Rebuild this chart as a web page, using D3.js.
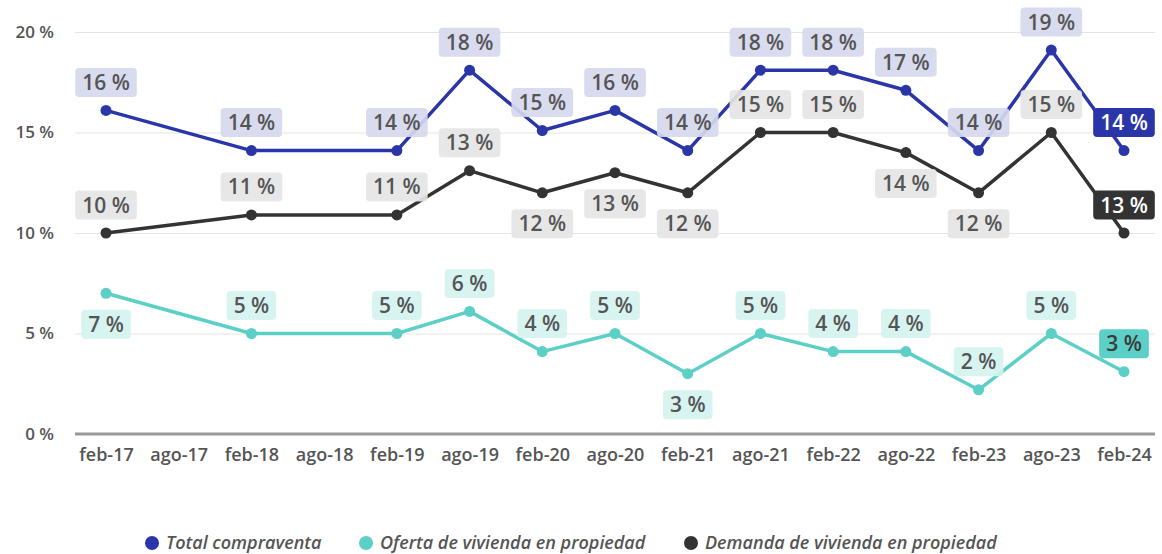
<!DOCTYPE html>
<html>
<head>
<meta charset="utf-8">
<script src="https://cdn.jsdelivr.net/npm/d3@7"></script>
<style>
  body { margin: 0; background: #fff; }
  svg { display: block; font-family: "Open Sans", "Noto Sans", sans-serif; }
</style>
</head>
<body>
<svg width="1162" height="554"></svg>
<script>
// periods on the x axis
var periods = ["feb-17","ago-17","feb-18","ago-18","feb-19","ago-19","feb-20","ago-20",
               "feb-21","ago-21","feb-22","ago-22","feb-23","ago-23","feb-24"];
var yTicks = [0, 5, 10, 15, 20];

// values as plotted (null = no observation)
var total    = [16.1, null, 14.1, null, 14.1, 18.1, 15.1, 16.1, 14.1, 18.1, 18.1, 17.1, 14.1, 19.1, 14.1];
var oferta   = [7.0, null, 5.0, null, 5.0, 6.1, 4.1, 5.0, 3.0, 5.0, 4.1, 4.1, 2.2, 5.0, 3.1];
var demanda  = [10.0, null, 10.9, null, 10.9, 13.1, 12.0, 13.0, 12.0, 15.0, 15.0, 14.0, 12.0, 15.0, 10.0];

// label texts as printed in the chart
var totalLabels   = ["16 %", null, "14 %", null, "14 %", "18 %", "15 %", "16 %", "14 %", "18 %", "18 %", "17 %", "14 %", "19 %", "14 %"];
var ofertaLabels  = ["7 %", null, "5 %", null, "5 %", "6 %", "4 %", "5 %", "3 %", "5 %", "4 %", "4 %", "2 %", "5 %", "3 %"];
var demandaLabels = ["10 %", null, "11 %", null, "11 %", "13 %", "12 %", "13 %", "12 %", "15 %", "15 %", "14 %", "12 %", "15 %", "13 %"];

var seriesNames = ["Total compraventa", "Oferta de vivienda en propiedad", "Demanda de vivienda en propiedad"];

// label placement: a = above the point, b = below
var totalPos   = "aaaaaaaaaaaaaaa".split("");
var ofertaPos  = "baaaaaaabaaaaaa".split("");
var demandaPos = "aaaaaabbbaabbaa".split("");

var svg = d3.select("svg");

var x = d3.scalePoint().domain(periods).range([106, 1124]);
var y = d3.scaleLinear().domain([0, 20]).range([434, 32]);

// gridlines
svg.append("g")
  .attr("transform", "translate(75,0)")
  .call(d3.axisLeft(y).tickValues(yTicks.slice(1)).tickSize(-1080).tickFormat(""))
  .call(g => g.select(".domain").remove())
  .call(g => g.selectAll("line").attr("stroke", "#e4e4e4").attr("stroke-width", 1));

// y labels
svg.append("g")
  .attr("transform", "translate(54,0)")
  .call(d3.axisLeft(y).tickValues(yTicks).tickSize(0).tickPadding(0).tickFormat(d => d + " %"))
  .call(g => g.select(".domain").remove())
  .call(g => g.selectAll("text")
    .attr("font-size", 17).attr("font-weight", 600).attr("fill", "#555")
    .style("font-family", "'Open Sans', sans-serif"));

// baseline
svg.append("line")
  .attr("x1", 75).attr("x2", 1155)
  .attr("y1", y(0)).attr("y2", y(0))
  .attr("stroke", "#999").attr("stroke-width", 3);

// x labels
svg.append("g")
  .attr("transform", "translate(0,444)")
  .call(d3.axisBottom(x).tickSize(0).tickPadding(4))
  .call(g => g.select(".domain").remove())
  .call(g => g.selectAll("text")
    .attr("font-size", 18).attr("font-weight", 600).attr("fill", "#555")
    .style("font-family", "'Open Sans', sans-serif"));

var series = [
  { values: total,   labels: totalLabels,   pos: totalPos,   color: "#2a36a8", box: "#d6d8ee", hiBox: "#2a36a8", hiText: "#fff" },
  { values: oferta,  labels: ofertaLabels,  pos: ofertaPos,  color: "#5ccfc6", box: "#d4f3f0", hiBox: "#5ccfc6", hiText: "#3a3a3a" },
  { values: demanda, labels: demandaLabels, pos: demandaPos, color: "#333333", box: "#e5e5e5", hiBox: "#333333", hiText: "#fff" }
];

var line = d3.line()
  .x(d => x(d.p))
  .y(d => y(d.v));

series.forEach(function(s) {
  var pts = periods.map((p, i) => ({ p: p, v: s.values[i], t: s.labels[i], pos: s.pos[i], i: i }))
    .filter(d => d.v != null);
  s.pts = pts;

  svg.append("path")
    .datum(pts)
    .attr("fill", "none")
    .attr("stroke", s.color)
    .attr("stroke-width", 3.5)
    .attr("stroke-linejoin", "round")
    .attr("d", line);

  svg.selectAll(null)
    .data(pts)
    .enter()
    .append("circle")
      .attr("cx", d => x(d.p))
      .attr("cy", d => y(d.v))
      .attr("r", 5.5)
      .attr("fill", s.color);
});

// data labels on top
series.forEach(function(s) {
  var last = s.pts.length - 1;
  s.pts.forEach(function(d, k) {
    var hi = k === last;
    var cx = x(d.p);
    var cy = y(d.v) + (d.pos === "b" ? 31 : -28);
    var g = svg.append("g").attr("transform", "translate(" + cx + "," + cy + ")");
    var rect = g.append("rect");
    var txt = g.append("text")
      .attr("text-anchor", "middle")
      .attr("dy", "0.36em")
      .attr("font-size", 21)
      .attr("font-weight", 600)
      .attr("fill", hi ? s.hiText : "#555")
      .text(d.t);
    var w = txt.node().getComputedTextLength() + 14;
    rect.attr("x", -w / 2).attr("y", -14.5)
      .attr("width", w).attr("height", 29)
      .attr("rx", 4)
      .attr("fill", hi ? s.hiBox : s.box)
      .attr("fill-opacity", hi ? 1 : 0.92);
  });
});

// legend
var legend = svg.append("g").attr("transform", "translate(0,543)");
var legX = [152, 366, 691];
series.forEach(function(s, i) {
  legend.append("circle").attr("cx", legX[i]).attr("cy", 0).attr("r", 7).attr("fill", s.color);
  legend.append("text")
    .attr("x", legX[i] + 14).attr("dy", "0.35em")
    .attr("font-size", 18).attr("font-style", "italic").attr("font-weight", 600)
    .attr("fill", "#555")
    .text(seriesNames[i]);
});
</script>
</body>
</html>
